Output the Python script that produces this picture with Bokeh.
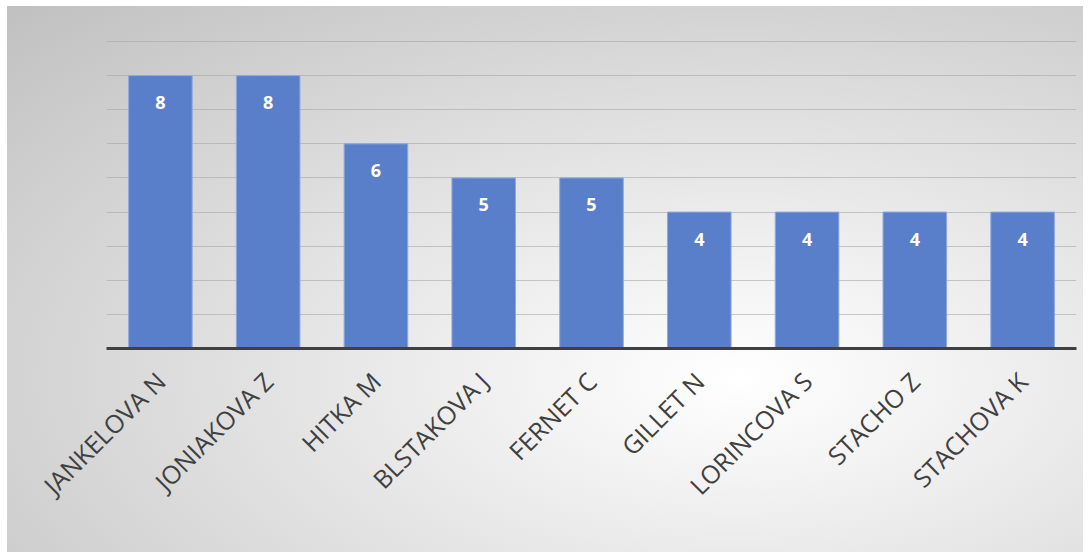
import math
from bokeh.plotting import figure
from bokeh.models import ColumnDataSource, FactorRange, Range1d, LabelSet, FixedTicker
from bokeh.core.properties import value
from bokeh.embed import file_html
from bokeh.resources import INLINE

names = ["JANKELOVA N", "JONIAKOVA Z", "HITKA M", "BLSTAKOVA J", "FERNET C",
         "GILLET N", "LORINCOVA S", "STACHO Z", "STACHOVA K"]
counts = [8, 8, 6, 5, 5, 4, 4, 4, 4]
grid_ticks = [0, 1, 2, 3, 4, 5, 6, 7, 8, 9]

src = ColumnDataSource(dict(name=names, count=counts, lbl=[str(c) for c in counts]))

p = figure(width=1076, height=546, output_backend="svg", toolbar_location=None,
           x_range=FactorRange(factors=names, range_padding=0),
           y_range=Range1d(0, 9.03),
           min_border_left=99, min_border_right=7, min_border_top=34, min_border_bottom=204)
p.styles = {"margin-left": "7px", "margin-top": "6px",
            "background": "radial-gradient(ellipse at 68% 68%, #ffffff 0%, #f4f4f4 18%, #c0c0c0 100%)"}
p.background_fill_alpha = 0
p.border_fill_alpha = 0
p.outline_line_color = None

p.vbar(x="name", top="count", width=0.59, source=src,
       fill_color="#5a7fca", line_color="#8ea9dc", line_width=1)

labels = LabelSet(x="name", y="count", text="lbl", source=src, y_offset=-27,
                  text_align="center", text_baseline="middle",
                  text_color="white", text_font_style="bold", text_font_size="18px",
                  text_font=value("Open Sans"))
p.add_layout(labels)

p.yaxis.visible = False
p.ygrid.ticker = FixedTicker(ticks=grid_ticks)
p.ygrid.grid_line_color = "#a6a6a6"
p.ygrid.grid_line_alpha = 0.6
p.xgrid.grid_line_color = None

p.xaxis.axis_line_color = "#404040"
p.xaxis.axis_line_width = 3
p.xaxis.major_tick_line_color = None
p.xaxis.minor_tick_line_color = None
p.xaxis.major_label_orientation = math.pi / 4
p.xaxis.major_label_text_font = "Open Sans"
p.xaxis.major_label_text_font_size = "25px"
p.xaxis.major_label_text_color = "#404040"
p.xaxis.major_label_standoff = 22

open("out.html", "w").write(file_html(p, INLINE))
